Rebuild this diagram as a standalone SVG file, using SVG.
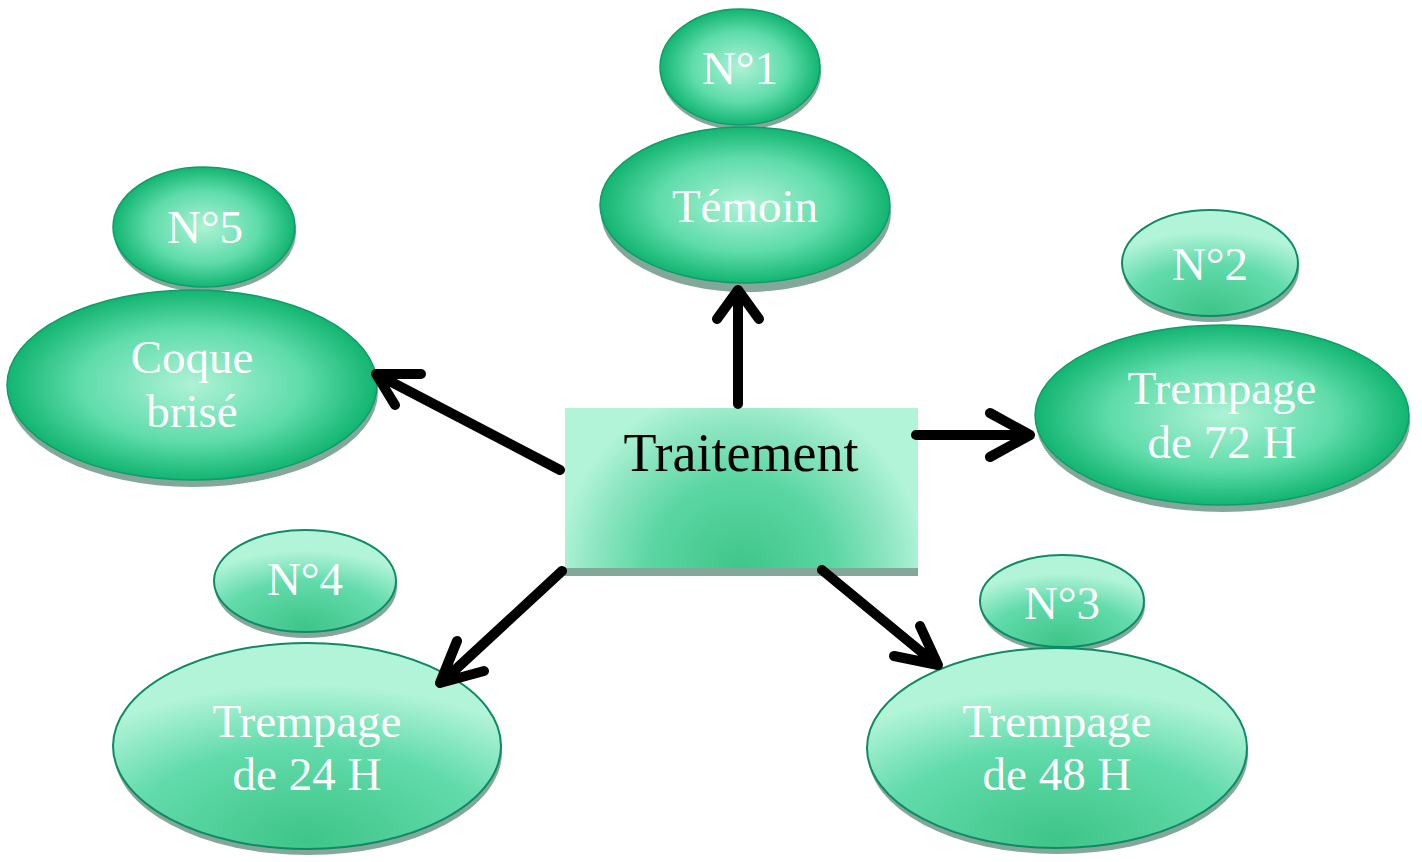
<svg xmlns="http://www.w3.org/2000/svg" width="1422" height="862" viewBox="0 0 1422 862">
<defs>
<radialGradient id="rg" cx="50%" cy="50%" r="50%">
<stop offset="0" stop-color="#aef2d6"/>
<stop offset="0.6" stop-color="#5fdcaa"/>
<stop offset="1" stop-color="#12b571"/>
</radialGradient>
<radialGradient id="lg" cx="50%" cy="100%" r="80%" fx="50%" fy="95%">
<stop offset="0" stop-color="#3ec588"/>
<stop offset="0.6" stop-color="#62dbab"/>
<stop offset="1" stop-color="#b2f4d8"/>
</radialGradient>
<radialGradient id="bg" gradientUnits="userSpaceOnUse" cx="741" cy="572" r="185">
<stop offset="0" stop-color="#3ec588"/>
<stop offset="0.5" stop-color="#5bd6a3"/>
<stop offset="0.8" stop-color="#8ee6c1"/>
<stop offset="1" stop-color="#b2f4d8"/>
</radialGradient>
</defs>
<style>
.sh{fill:#83a89a}
.r{fill:url(#rg);stroke:#0f9c69;stroke-width:1.5}
.l{fill:url(#lg);stroke:#0e8a67;stroke-width:2}
.t{font-family:"Liberation Serif",serif;font-size:47px;fill:#ffffff;text-anchor:middle}
.k{font-family:"Liberation Serif",serif;font-size:54px;fill:#000000;text-anchor:middle}
.c{fill:none;stroke:#000;stroke-width:10;stroke-linecap:round;stroke-linejoin:round}
</style>
<rect width="1422" height="862" fill="#ffffff"/>

<g id="n1">
<ellipse class="sh" cx="741" cy="72" rx="80" ry="58"/>
<ellipse class="r" cx="740" cy="67" rx="80" ry="58"/>
<text class="t" x="740" y="84">N°1</text>
</g>
<g id="temoin">
<ellipse class="sh" cx="746" cy="213" rx="145" ry="79"/>
<ellipse class="r" cx="745" cy="205" rx="145" ry="78"/>
<text class="t" x="745" y="222">Témoin</text>
</g>
<g id="n5">
<ellipse class="sh" cx="205" cy="232" rx="91" ry="60"/>
<ellipse class="r" cx="204" cy="227" rx="91" ry="60"/>
<text class="t" x="205" y="243">N°5</text>
</g>
<g id="coque">
<ellipse class="sh" cx="193" cy="392" rx="185" ry="95"/>
<ellipse class="r" cx="192" cy="385" rx="185" ry="95"/>
<text class="t" x="192" y="373">Coque</text>
<text class="t" x="192" y="427">brisé</text>
</g>
<g id="n2">
<ellipse class="sh" cx="1211" cy="269" rx="88" ry="53"/>
<ellipse class="l" cx="1210" cy="263" rx="88" ry="53"/>
<text class="t" x="1210" y="280">N°2</text>
</g>
<g id="t72">
<ellipse class="sh" cx="1223" cy="422" rx="187" ry="90"/>
<ellipse class="r" cx="1222" cy="415" rx="187" ry="90"/>
<text class="t" x="1222" y="404">Trempage</text>
<text class="t" x="1222" y="458">de 72 H</text>
</g>
<g id="n4">
<ellipse class="sh" cx="306" cy="587" rx="91" ry="51"/>
<ellipse class="l" cx="305" cy="581" rx="91" ry="51"/>
<text class="t" x="305" y="595">N°4</text>
</g>
<g id="t24">
<ellipse class="sh" cx="308" cy="752" rx="194" ry="103"/>
<ellipse class="l" cx="307" cy="746" rx="194" ry="103"/>
<text class="t" x="307" y="737">Trempage</text>
<text class="t" x="307" y="790">de 24 H</text>
</g>
<g id="n3">
<ellipse class="sh" cx="1063" cy="606" rx="82" ry="46"/>
<ellipse class="l" cx="1062" cy="601" rx="82" ry="46"/>
<text class="t" x="1062" y="619">N°3</text>
</g>
<g id="t48">
<ellipse class="sh" cx="1058" cy="754" rx="190" ry="100"/>
<ellipse class="l" cx="1057" cy="748" rx="190" ry="100"/>
<text class="t" x="1057" y="737">Trempage</text>
<text class="t" x="1057" y="790">de 48 H</text>
</g>

<g id="traitement">
<rect class="sh" x="565" y="412" width="353" height="164"/>
<rect x="565" y="408" width="353" height="160" fill="url(#bg)"/>
<text class="k" x="741" y="471">Traitement</text>
</g>

<g id="connectors">
<path class="c" d="M738 404 L738 292 M717 319 L738 290 L759 319"/>
<path class="c" d="M916 435 L1028 435 M990 413 L1030 435 L990 457"/>
<path class="c" d="M560 470 L378 375 M395 405 L376 374 L421 374"/>
<path class="c" d="M562 571 L442 682 M457 641 L440 683 L484 671"/>
<path class="c" d="M822 570 L936 664 M894 656 L938 665 L920 626"/>
</g>
</svg>
